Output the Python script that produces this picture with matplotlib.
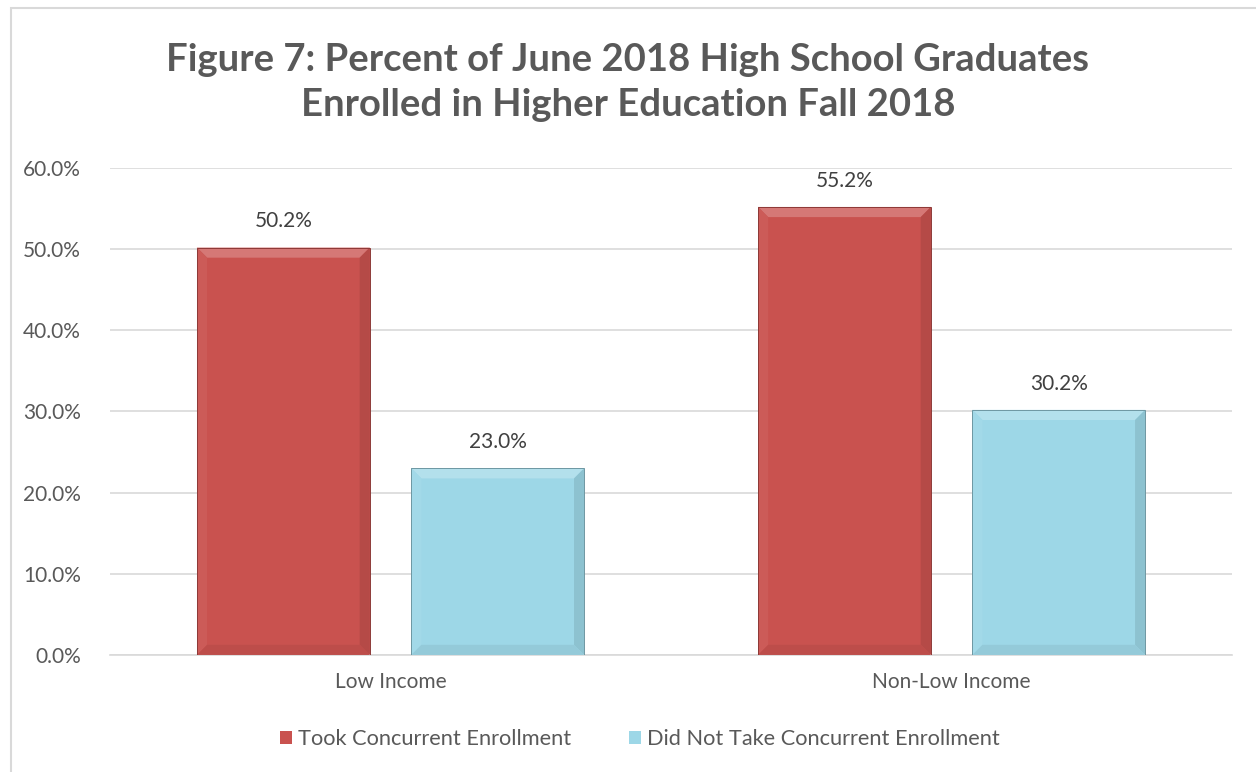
import numpy as np
import matplotlib.pyplot as plt
from matplotlib.patches import Polygon, Rectangle
from matplotlib.colors import to_rgb

# data
categories = ['Low Income', 'Non-Low Income']
series = ['Took Concurrent Enrollment', 'Did Not Take Concurrent Enrollment']
took = [50.2, 55.2]
did_not = [23.0, 30.2]
colors = ['#C9524F', '#9DD7E7']

plt.rcParams['font.family'] = ['Lato', 'DejaVu Sans']

fig = plt.figure(figsize=(12.56, 7.72), dpi=100)
ax = fig.add_axes([0.0876, 0.1516, 0.8934, 0.6308])

# outer chart frame (cropped on right/bottom like the source)
fig.patches.append(Rectangle((11 / 1256, -0.01), 1.1, 1 - 8 / 772 + 0.01,
                             transform=fig.transFigure, fill=False,
                             edgecolor='#D9D9D9', linewidth=1.5))

x = np.arange(len(categories))
w = 0.308
offs = [-0.191, 0.191]


def shade(c, f):
    r, g, b = to_rgb(c)
    if f > 0:
        return (r + (1 - r) * f, g + (1 - g) * f, b + (1 - b) * f)
    return (r * (1 + f), g * (1 + f), b * (1 + f))


def bevel(ax, bar, color):
    # soft bevel drawn from the bar's own geometry
    x0, y0 = bar.get_x(), bar.get_y()
    x1, y1 = x0 + bar.get_width(), y0 + bar.get_height()
    dx, dy = 0.018, 1.25
    faces = [
        ([(x0, y1), (x1, y1), (x1 - dx, y1 - dy), (x0 + dx, y1 - dy)], shade(color, 0.22)),
        ([(x0, y0), (x0, y1), (x0 + dx, y1 - dy), (x0 + dx, y0 + dy)], shade(color, 0.05)),
        ([(x1, y0), (x1, y1), (x1 - dx, y1 - dy), (x1 - dx, y0 + dy)], shade(color, -0.1)),
        ([(x0, y0), (x1, y0), (x1 - dx, y0 + dy), (x0 + dx, y0 + dy)], shade(color, -0.06)),
    ]
    for pts, c in faces:
        ax.add_patch(Polygon(pts, closed=True, facecolor=c, edgecolor='none', zorder=3))
    ax.add_patch(Rectangle((x0, y0), x1 - x0, y1 - y0, fill=False,
                           edgecolor=shade(color, -0.3), linewidth=0.7, zorder=4))


for vals, off, col, name in zip([took, did_not], offs, colors, series):
    bars = ax.bar(x + off, vals, width=w, color=col, label=name, zorder=2)
    for b, v in zip(bars, vals):
        bevel(ax, b, col)
        ax.text(b.get_x() + b.get_width() / 2, v + 2.0, f'{v:.1f}%',
                ha='center', va='bottom', fontsize=15, color='#404040')

ax.set_xlim(-0.5, 1.5)
ax.set_ylim(0, 60)
ax.set_yticks(np.arange(0, 61, 10))
ax.set_yticklabels([f'{t:.1f}%' for t in np.arange(0, 61, 10)])
ax.set_xticks(x)
ax.set_xticklabels(categories)
ax.tick_params(axis='both', length=0, labelsize=15, labelcolor='#595959', pad=12)
ax.tick_params(axis='y', pad=21)
ax.grid(axis='y', color='#D9D9D9', linewidth=1.2, zorder=0)
ax.set_axisbelow(True)
for s in ['top', 'right', 'left']:
    ax.spines[s].set_visible(False)
ax.spines['bottom'].set_color('#D9D9D9')
ax.spines['bottom'].set_linewidth(1.2)

fig.text(0.5, 0.893, 'Figure 7: Percent of June 2018 High School Graduates\nEnrolled in Higher Education Fall 2018',
         ha='center', va='center', fontsize=27.5, fontweight='bold', color='#595959', linespacing=1.42)

leg = fig.legend(loc='center', bbox_to_anchor=(0.5096, 0.043), ncol=2, frameon=False,
                 fontsize=15.7, handlelength=0.55, handleheight=0.55, handletextpad=0.28,
                 columnspacing=2.66)
for t in leg.get_texts():
    t.set_color('#595959')

fig.savefig('out.png', dpi=100)
